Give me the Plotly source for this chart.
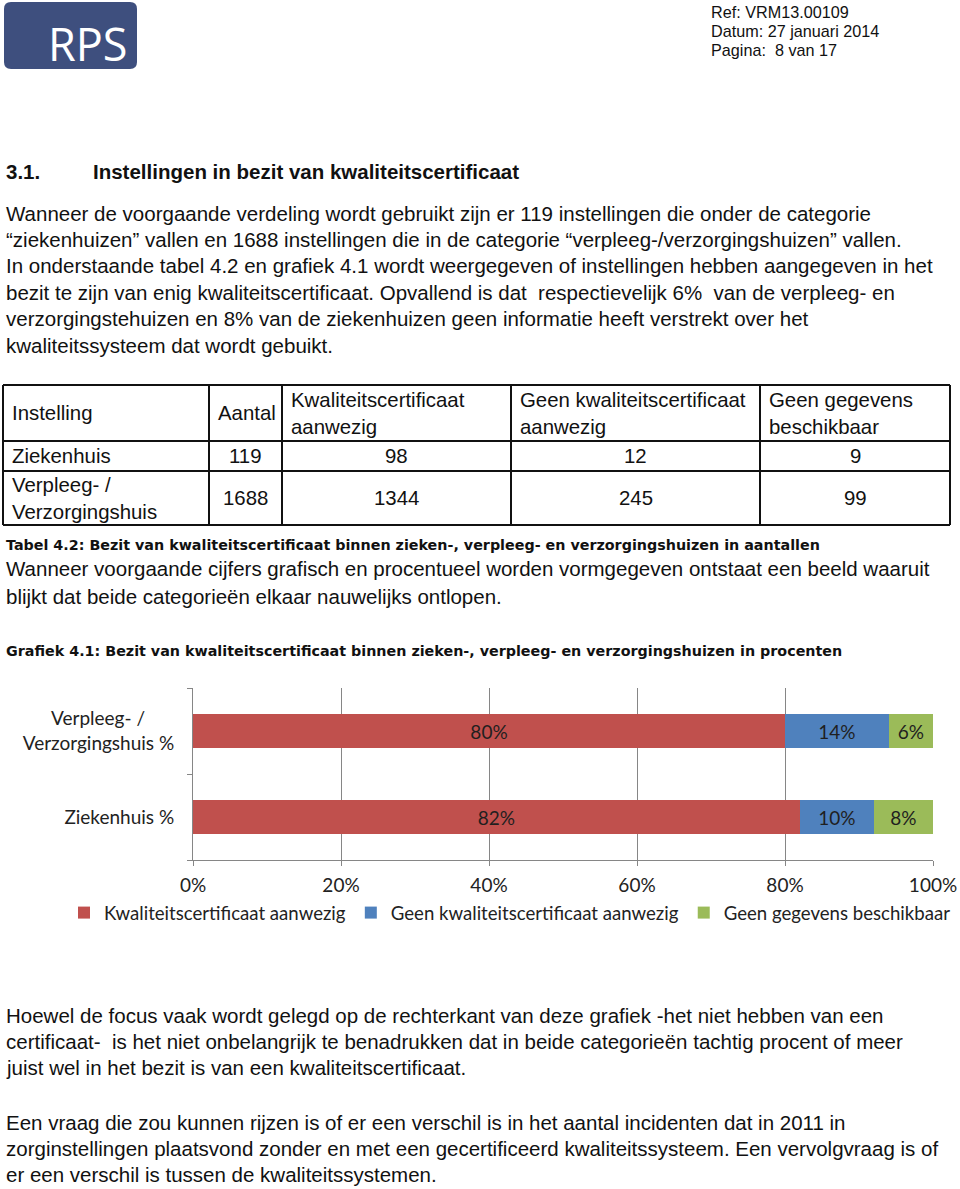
import plotly.graph_objects as go

W, H = 960, 1189

# ---------------- data ----------------
categories = ["Ziekenhuis %", "Verpleeg- / Verzorgingshuis %"]
series_names = ["Kwaliteitscertificaat aanwezig",
                "Geen kwaliteitscertificaat aanwezig",
                "Geen gegevens beschikbaar"]
pct_aanwezig = [82, 80]
pct_geen = [10, 14]
pct_onbekend = [8, 6]
series_colors = ["#C0504D", "#4F81BD", "#9BBB59"]
x_ticks = [0, 20, 40, 60, 80, 100]

table_header = ["Instelling", "Aantal", "Kwaliteitscertificaat<br>aanwezig",
                "Geen kwaliteitscertificaat<br>aanwezig", "Geen gegevens<br>beschikbaar"]
table_rows = [
    ["Ziekenhuis", 119, 98, 12, 9],
    ["Verpleeg- /<br>Verzorgingshuis", 1688, 1344, 245, 99],
]

header_right = ["Ref: VRM13.00109", "Datum: 27 januari 2014", "Pagina:  8 van 17"]
para1 = [
    "Wanneer de voorgaande verdeling wordt gebruikt zijn er 119 instellingen die onder de categorie",
    "“ziekenhuizen” vallen en 1688 instellingen die in de categorie “verpleeg-/verzorgingshuizen” vallen.",
    "In onderstaande tabel 4.2 en grafiek 4.1 wordt weergegeven of instellingen hebben aangegeven in het",
    "bezit te zijn van enig kwaliteitscertificaat. Opvallend is dat  respectievelijk 6%  van de verpleeg- en",
    "verzorgingstehuizen en 8% van de ziekenhuizen geen informatie heeft verstrekt over het",
    "kwaliteitssysteem dat wordt gebuikt.",
]
para2 = [
    "Wanneer voorgaande cijfers grafisch en procentueel worden vormgegeven ontstaat een beeld waaruit",
    "blijkt dat beide categorieën elkaar nauwelijks ontlopen.",
]
para3 = [
    "Hoewel de focus vaak wordt gelegd op de rechterkant van deze grafiek -het niet hebben van een",
    "certificaat-  is het niet onbelangrijk te benadrukken dat in beide categorieën tachtig procent of meer",
    "juist wel in het bezit is van een kwaliteitscertificaat.",
]
para4 = [
    "Een vraag die zou kunnen rijzen is of er een verschil is in het aantal incidenten dat in 2011 in",
    "zorginstellingen plaatsvond zonder en met een gecertificeerd kwaliteitssysteem. Een vervolgvraag is of",
    "er een verschil is tussen de kwaliteitssystemen.",
]
table_caption = "Tabel 4.2: Bezit van kwaliteitscertificaat binnen zieken-, verpleeg- en verzorgingshuizen in aantallen"
chart_caption = "Grafiek 4.1: Bezit van kwaliteitscertificaat binnen zieken-, verpleeg- en verzorgingshuizen in procenten"

# ---------------- helpers ----------------
def px(x):
    return x / W

def py(y):
    return 1 - y / H

BODY = "Liberation Sans, Arial, sans-serif"
CAP = "DejaVu Sans, Verdana, sans-serif"
CHART = "Lato, Calibri, sans-serif"
CHART_SIZE = 19
BODY_SIZE = 20.5
TABLE_SIZE = 20.4

annotations = []
shapes = []

def ann(text, x, y, size=BODY_SIZE, family=BODY, anchor="left", color="#111", bold=False):
    if bold:
        text = "<b>" + text + "</b>"
    annotations.append(dict(text=text, x=px(x), y=py(y), xref="paper", yref="paper",
                            xanchor=anchor, yanchor="middle", showarrow=False,
                            align=anchor if anchor != "middle" else "center",
                            font=dict(size=size, family=family, color=color)))

# ---------------- figure ----------------
fig = go.Figure()
for name, vals, col in zip(series_names, [pct_aanwezig, pct_geen, pct_onbekend], series_colors):
    fig.add_trace(go.Bar(
        y=categories, x=vals, name=name, orientation="h",
        marker=dict(color=col, line=dict(width=0)),
        texttemplate="%{x:.0f}%", textposition="inside", insidetextanchor="middle",
        textfont=dict(size=CHART_SIZE, color="#1F1F1F", family=CHART),
        constraintext="none", hoverinfo="skip",
    ))

# logo
lx0, ly0, lx1, ly1, r = 4, 2, 137, 69, 7
shapes.append(dict(
    type="path", xref="paper", yref="paper", fillcolor="#3E4F7E", line=dict(width=0),
    path=(f"M{px(lx0 + r)},{py(ly0)} L{px(lx1 - r)},{py(ly0)} "
          f"Q{px(lx1)},{py(ly0)} {px(lx1)},{py(ly0 + r)} L{px(lx1)},{py(ly1 - r)} "
          f"Q{px(lx1)},{py(ly1)} {px(lx1 - r)},{py(ly1)} L{px(lx0 + r)},{py(ly1)} "
          f"Q{px(lx0)},{py(ly1)} {px(lx0)},{py(ly1 - r)} L{px(lx0)},{py(ly0 + r)} "
          f"Q{px(lx0)},{py(ly0)} {px(lx0 + r)},{py(ly0)} Z")))
ann("RPS", 88, 43, size=45, family="Open Sans, sans-serif", anchor="center", color="white")

# header right
for i, t in enumerate(header_right):
    ann(t, 709, 12 + i * 19, size=16.2)

# heading
ann("3.1.", 4, 172, size=BODY_SIZE, bold=True)
ann("Instellingen in bezit van kwaliteitscertificaat", 91, 172, size=BODY_SIZE, bold=True)

for i, t in enumerate(para1):
    ann(t, 4, 213 + i * 26.4)

# table
col_x = [3, 209, 282, 511, 760, 950]
row_y = [385, 441, 471, 525]
for xv in col_x:
    shapes.append(dict(type="line", xref="paper", yref="paper", x0=px(xv), x1=px(xv),
                       y0=py(row_y[0]), y1=py(row_y[-1]), line=dict(color="#111", width=2)))
for yv in row_y:
    shapes.append(dict(type="line", xref="paper", yref="paper", x0=px(col_x[0]), x1=px(col_x[-1]),
                       y0=py(yv), y1=py(yv), line=dict(color="#111", width=2)))
hy = (row_y[0] + row_y[1]) / 2
for j, t in enumerate(table_header):
    ann(t, col_x[j] + 7, hy, size=TABLE_SIZE)
for i, row in enumerate(table_rows):
    cy = (row_y[i + 1] + row_y[i + 2]) / 2
    ann(row[0], col_x[0] + 7, cy, size=TABLE_SIZE)
    for j in range(1, 5):
        ann(str(row[j]), (col_x[j] + col_x[j + 1]) / 2, cy, size=TABLE_SIZE, anchor="center")

ann(table_caption, 4, 545, size=14.3, family=CAP, bold=True)
for i, t in enumerate(para2):
    ann(t, 4, 569 + i * 27)
ann(chart_caption, 4, 651, size=14.3, family=CAP, bold=True)

for i, t in enumerate(para3):
    ann(t, 4, 1015 + i * 26.4)
for i, t in enumerate(para4):
    ann(t, 4, 1122 + i * 26.4)

# y tick text (Excel centres wrapped category labels)
y_ticktext = ["Ziekenhuis %", "Verpleeg- /" + "\u00a0" * 6 + "<br>Verzorgingshuis %"]
x_ticktext = [f"{v}%" for v in x_ticks]

grid = "#868686"
fig.update_layout(
    width=W, height=H, autosize=False,
    margin=dict(l=0, r=0, t=0, b=0),
    paper_bgcolor="white", plot_bgcolor="white",
    barmode="stack", bargap=0.61,
    showlegend=True,
    legend=dict(orientation="h", x=px(64), y=py(913), xanchor="left", yanchor="middle",
                font=dict(size=18.6, family=CHART, color="#222"), itemwidth=30,
                traceorder="normal", bgcolor="rgba(0,0,0,0)"),
    xaxis=dict(domain=[px(193), px(933)], range=[0, 100], tickvals=x_ticks,
               ticktext=x_ticktext, showgrid=True, gridcolor=grid, gridwidth=1,
               showline=True, linecolor=grid, linewidth=1, ticks="outside",
               ticklen=5, tickcolor=grid, zeroline=False, automargin=False,
               ticklabelstandoff=3,
               tickfont=dict(size=CHART_SIZE, family=CHART, color="#222"), fixedrange=True),
    yaxis=dict(domain=[py(860), py(688)], type="category", categoryarray=categories,
               categoryorder="array", tickvals=categories, ticktext=y_ticktext,
               range=[-0.5, 1.5], showline=True, linecolor=grid, linewidth=1,
               ticks="outside", tickson="boundaries", ticklen=5, tickcolor=grid,
               showgrid=False, zeroline=False, automargin=False, ticklabelstandoff=14,
               tickfont=dict(size=CHART_SIZE, family=CHART, color="#222"), fixedrange=True),
    annotations=annotations, shapes=shapes,
)

fig.write_html(
    "out.html",
    config={"responsive": False, "displayModeBar": False},
    default_width=f"{W}px", default_height=f"{H}px",
    post_script="document.body.style.margin='0';document.body.style.overflow='hidden';",
)
